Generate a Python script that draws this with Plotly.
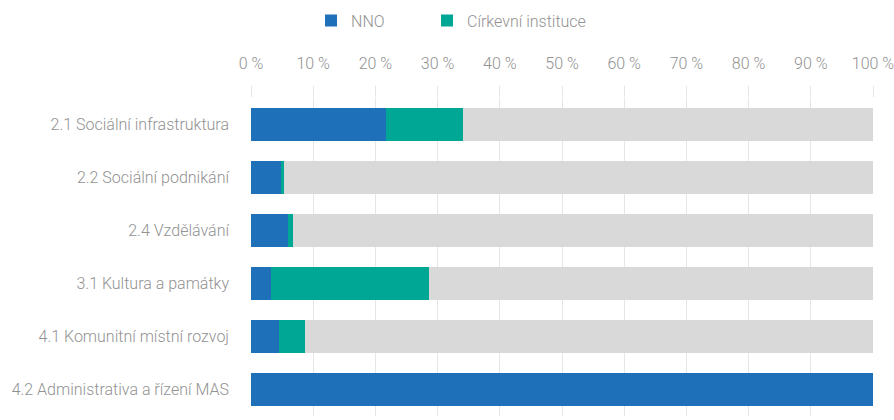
import plotly.graph_objects as go

categories = ["2.1 Sociální infrastruktura", "2.2 Sociální podnikání", "2.4 Vzdělávání",
              "3.1 Kultura a památky", "4.1 Komunitní místní rozvoj", "4.2 Administrativa a řízení MAS"]
nno = [21.7, 4.8, 5.9, 3.2, 4.5, 100.0]
cirkevni = [12.4, 0.5, 0.8, 25.4, 4.2, 0.0]
ostatni = [round(100 - a - b, 2) for a, b in zip(nno, cirkevni)]
tick_vals = list(range(0, 101, 10))
tick_text = [f"{v} %" for v in tick_vals]

font_col = "#929292"
fig = go.Figure()
fig.add_trace(go.Bar(y=categories, x=nno, name="NNO", orientation="h", marker_color="#1e70b9",
                     marker_line_width=0, legend="legend"))
fig.add_trace(go.Bar(y=categories, x=cirkevni, name="Církevní instituce", orientation="h", marker_color="#00a795",
                     marker_line_width=0, legend="legend2"))
fig.add_trace(go.Bar(y=categories, x=ostatni, name="Ostatní", orientation="h", marker_color="#d9d9d9",
                     marker_line_width=0, showlegend=False))

leg_common = dict(orientation="h", yref="paper", y=1.297, xanchor="left", yanchor="top",
                  font=dict(size=16, color=font_col), itemwidth=30, bgcolor="rgba(0,0,0,0)")
fig.update_layout(
    width=894, height=420,
    barmode="stack", bargap=0.377,
    paper_bgcolor="white", plot_bgcolor="white",
    margin=dict(l=251, r=21, t=98, b=4, autoexpand=False),
    font=dict(family="Roboto", size=16, color=font_col, weight=300),
    legend=dict(x=0.0965, **leg_common),
    legend2=dict(x=0.0965 + 116 / 622, **leg_common),
    xaxis=dict(side="top", range=[0, 100], tickvals=tick_vals, ticktext=tick_text,
               showgrid=True, gridcolor="#e6e6e6", gridwidth=1, zeroline=False, automargin=False,
               ticks="outside", ticklen=11, tickcolor="#e6e6e6", showline=False, fixedrange=True,
               ticklabelstandoff=11, ticklabeloverflow="allow"),
    yaxis=dict(autorange="reversed", showgrid=False, ticks="", ticklabelstandoff=21, fixedrange=True,
               automargin=False),
)
fig.write_html("out.html", config={"displayModeBar": False},
               post_script="document.body.style.margin='0';document.body.style.overflow='hidden';")
